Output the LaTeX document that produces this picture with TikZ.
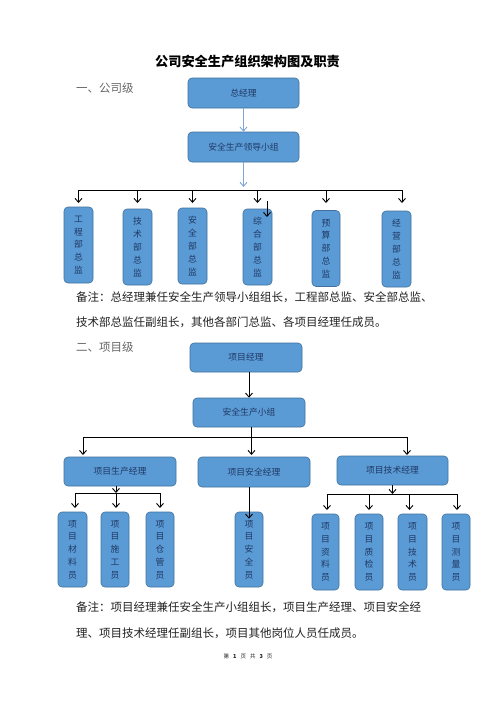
\documentclass[tikz,border=0pt]{standalone}
\usepackage{fontspec}
\setmainfont{Noto Sans CJK SC}
\usetikzlibrary{arrows.meta}
\definecolor{boxfill}{HTML}{5B9BD5}
\definecolor{boxdraw}{HTML}{41719C}
\definecolor{boxtext}{HTML}{1F3864}
\definecolor{lblue}{HTML}{7DA7D9}
\definecolor{notetext}{HTML}{222222}
\definecolor{headgray}{HTML}{666666}
\tikzset{
  box/.style={draw=boxdraw, fill=boxfill, rounded corners=4pt, line width=0.6pt,
    text=boxtext, font=\fontsize{8.8}{10}\selectfont, inner sep=0pt},
  hbox/.style={box, minimum width=112pt, minimum height=29pt},
  vbox/.style={box, minimum width=28pt, minimum height=76pt, align=center,
    font=\fontsize{8.8}{12.8}\selectfont},
  arr/.style={-{Straight Barb[length=4pt,width=7pt]}, line width=0.9pt, black},
  larr/.style={-{Straight Barb[length=4pt,width=7pt]}, line width=0.9pt, lblue},
  bar/.style={line width=0.9pt, black},
  note/.style={anchor=west, inner sep=0pt, text=notetext, font=\fontsize{11.5}{12}\selectfont},
  head/.style={anchor=west, inner sep=0pt, text=headgray, font=\fontsize{11.5}{12}\selectfont},
}
\begin{document}
\begin{tikzpicture}[x=1pt,y=-1pt]
\useasboundingbox[fill=white] (0,0) rectangle (496,702);

% title
\node[inner sep=0pt, font=\fontsize{13.2}{14}\selectfont\bfseries] (title) at (247.5,62) {公司安全生产组织架构图及职责};

% ---------- company level ----------
\node[head] (h1) at (76,88) {一、公司级};
\node[hbox, minimum width=111pt, minimum height=30pt] (gm) at (243.5,93) {总经理};
\node[hbox, minimum width=111pt, minimum height=30pt] (lg) at (243.5,147) {安全生产领导小组};

\node[vbox, minimum width=29pt] (b1) at (78.5,245) {工\\程\\部\\总\\监};
\node[vbox, minimum width=29pt] (b2) at (137.5,247) {技\\术\\部\\总\\监};
\node[vbox, minimum width=29pt] (b3) at (192.5,246) {安\\全\\部\\总\\监};
\node[vbox, minimum width=29pt] (b4) at (257.5,247) {综\\合\\部\\总\\监};
\node[vbox] (b5) at (326,248.5) {预\\算\\部\\总\\监};
\node[vbox, minimum width=29pt] (b6) at (396.5,249) {经\\营\\部\\总\\监};

\coordinate (cbar) at (0,190);
\coordinate (ctip) at (0,203);
\coordinate (lgtip) at (0,187);
\coordinate (xs) at (267,201);
\coordinate (xe) at (267,217);

\draw[larr] (gm.south) -- (lg.north);
\draw[larr] (lg.south) -- (lg.south |- lgtip);
\draw[bar] (b1.north |- cbar) -- ([xshift=5.5pt]b6.north |- cbar);
\foreach \b in {b1,b2,b3,b4,b5}{
  \draw[arr] (\b.north |- cbar) -- (\b.north |- ctip);
}
\draw[arr] ([xshift=5.5pt]b6.north |- cbar) -- ([xshift=5.5pt]b6.north |- ctip);
\draw[arr] (xs) -- (xe);

\node[note] (n1a) at (76,297) {备注：总经理兼任安全生产领导小组组长，工程部总监、安全部总监、};
\node[note] (n1b) at (76,322) {技术部总监任副组长，其他各部门总监、各项目经理任成员。};

% ---------- project level ----------
\node[head] (h2) at (76,347) {二、项目级};
\node[hbox] (pm) at (246,357.5) {项目经理};
\node[hbox] (sg) at (249,412.5) {安全生产小组};

\node[hbox] (pp) at (120,471.5) {项目生产经理};
\node[hbox, minimum height=30pt] (ps) at (254,472) {项目安全经理};
\node[hbox, minimum width=111pt] (pt) at (392.5,470.5) {项目技术经理};

\coordinate (pbar) at (0,437);
\coordinate (ptip) at (0,455);
\draw[arr] (sg.north |- pm.south) -- (sg.north);
\draw[bar] ([xshift=2.5pt]sg.south) -- ([xshift=2.5pt]sg.south |- pbar);
\draw[bar] ([xshift=-37pt]pp.north |- pbar) -- ([xshift=14.5pt]pt.north |- pbar);
\draw[arr] ([xshift=-37pt]pp.north |- pbar) -- ([xshift=-37pt]pp.north |- ptip);
\draw[arr] ([xshift=2.5pt]sg.south |- pbar) -- ([xshift=2.5pt]sg.south |- ptip);
\draw[arr] ([xshift=14.5pt]pt.north |- pbar) -- ([xshift=14.5pt]pt.north |- ptip);

% production group
\node[vbox, minimum width=29pt, minimum height=75pt] (m1) at (72.5,549.5) {项\\目\\材\\料\\员};
\node[vbox, minimum height=75pt] (m2) at (115,549.5) {项\\目\\施\\工\\员};
\node[vbox, minimum height=75pt] (m3) at (160,549.5) {项\\目\\仓\\管\\员};
\coordinate (mbar) at (0,493);
\coordinate (mtip) at (0,508);
\draw[arr] ([xshift=-4pt]pp.south) -- ([xshift=-4pt]pp.south |- mbar);
\draw[bar] ([xshift=2.5pt]m1.north |- mbar) -- (m3.north |- mbar);
\draw[arr] ([xshift=2.5pt]m1.north |- mbar) -- ([xshift=2.5pt]m1.north |- mtip);
\draw[arr] ([xshift=1pt]m2.north |- mbar) -- ([xshift=1pt]m2.north |- mtip);
\draw[arr] (m3.north |- mbar) -- (m3.north |- mtip);

% safety
\node[vbox, minimum height=75pt] (s1) at (249,549.5) {项\\目\\安\\全\\员};
\draw[arr] (s1.north |- ps.south) -- ([yshift=-7pt]s1.north);

% technical group
\node[vbox, minimum width=27pt] (t1) at (325.5,552) {项\\目\\资\\料\\员};
\node[vbox] (t2) at (369,552) {项\\目\\质\\检\\员};
\node[vbox, minimum width=29pt] (t3) at (412.5,552) {项\\目\\技\\术\\员};
\node[vbox] (t4) at (456,552) {项\\目\\测\\量\\员};
\coordinate (tbar) at (0,494);
\coordinate (ttip) at (0,510);
\draw[arr] (pt.south) -- (pt.south |- tbar);
\draw[bar] ([xshift=1.5pt]t1.north |- tbar) -- ([xshift=1pt]t4.north |- tbar);
\draw[arr] ([xshift=1.5pt]t1.north |- tbar) -- ([xshift=1.5pt]t1.north |- ttip);
\draw[arr] (t2.north |- tbar) -- (t2.north |- ttip);
\draw[arr] ([xshift=-3pt]t3.north |- tbar) -- ([xshift=-3pt]t3.north |- ttip);
\draw[arr] ([xshift=1pt]t4.north |- tbar) -- ([xshift=1pt]t4.north |- ttip);

\node[note] (n2a) at (76,607) {备注：项目经理兼任安全生产小组组长，项目生产经理、项目安全经};
\node[note] (n2b) at (76,633) {理、项目技术经理任副组长，项目其他岗位人员任成员。};

\node[inner sep=0pt, text=notetext, font=\fontsize{5.5}{6}\selectfont] (foot) at (248,656) {第\hspace{4pt}\textbf{1}\hspace{4pt}页\hspace{4pt}共\hspace{4pt}\textbf{3}\hspace{4pt}页};
\end{tikzpicture}
\end{document}
